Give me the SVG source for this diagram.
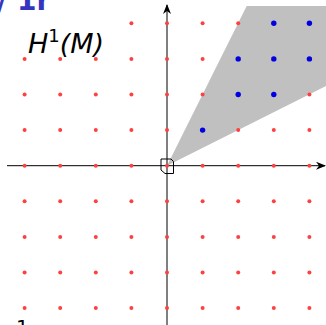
<svg xmlns="http://www.w3.org/2000/svg" width="326" height="325" viewBox="0 0 326 325">
<style>
.r{fill:#ff4040}
.b{fill:#0000e0}
.ax{stroke:#000;stroke-width:1;fill:none}
.lbl{font-family:"DejaVu Sans",sans-serif;font-style:italic;font-size:27px;fill:#000}
</style>
<defs>
<marker id="arr" viewBox="0 0 10 8" refX="9" refY="4" markerWidth="10" markerHeight="8" markerUnits="userSpaceOnUse" orient="auto">
<path d="M0,0 L10,4 L0,8 L3,4 Z" fill="#000"/>
</marker>
</defs>
<rect width="326" height="325" fill="#fff"/>
<g id="cone">
<polygon points="167,165.7 246.7,6 326,6 326,86" fill="#c0c0c0"/>
</g>
<g id="connectors">
<line class="ax" x1="7" y1="165.7" x2="325" y2="165.7" marker-end="url(#arr)"/>
<line class="ax" x1="167" y1="325" x2="167" y2="5" marker-end="url(#arr)"/>
</g>
<g id="red-dots">
<circle class="r" cx="131.4" cy="23.3" r="2"/>
<circle class="r" cx="167" cy="23.3" r="2"/>
<circle class="r" cx="202.6" cy="23.3" r="2"/>
<circle class="r" cx="238.2" cy="23.3" r="2"/>
<circle class="r" cx="24.6" cy="58.9" r="2"/>
<circle class="r" cx="60.2" cy="58.9" r="2"/>
<circle class="r" cx="95.8" cy="58.9" r="2"/>
<circle class="r" cx="131.4" cy="58.9" r="2"/>
<circle class="r" cx="167" cy="58.9" r="2"/>
<circle class="r" cx="202.6" cy="58.9" r="2"/>
<circle class="r" cx="24.6" cy="94.5" r="2"/>
<circle class="r" cx="60.2" cy="94.5" r="2"/>
<circle class="r" cx="95.8" cy="94.5" r="2"/>
<circle class="r" cx="131.4" cy="94.5" r="2"/>
<circle class="r" cx="167" cy="94.5" r="2"/>
<circle class="r" cx="202.6" cy="94.5" r="2"/>
<circle class="r" cx="309.4" cy="94.5" r="2"/>
<circle class="r" cx="24.6" cy="130.1" r="2"/>
<circle class="r" cx="60.2" cy="130.1" r="2"/>
<circle class="r" cx="95.8" cy="130.1" r="2"/>
<circle class="r" cx="131.4" cy="130.1" r="2"/>
<circle class="r" cx="167" cy="130.1" r="2"/>
<circle class="r" cx="238.2" cy="130.1" r="2"/>
<circle class="r" cx="273.8" cy="130.1" r="2"/>
<circle class="r" cx="309.4" cy="130.1" r="2"/>
<circle class="r" cx="24.6" cy="165.7" r="2"/>
<circle class="r" cx="60.2" cy="165.7" r="2"/>
<circle class="r" cx="95.8" cy="165.7" r="2"/>
<circle class="r" cx="131.4" cy="165.7" r="2"/>
<circle class="r" cx="167" cy="165.7" r="2"/>
<circle class="r" cx="202.6" cy="165.7" r="2"/>
<circle class="r" cx="238.2" cy="165.7" r="2"/>
<circle class="r" cx="273.8" cy="165.7" r="2"/>
<circle class="r" cx="309.4" cy="165.7" r="2"/>
<g id="lower-rows">
<circle class="r" cx="24.6" cy="201.3" r="2"/><circle class="r" cx="60.2" cy="201.3" r="2"/><circle class="r" cx="95.8" cy="201.3" r="2"/><circle class="r" cx="131.4" cy="201.3" r="2"/><circle class="r" cx="167" cy="201.3" r="2"/><circle class="r" cx="202.6" cy="201.3" r="2"/><circle class="r" cx="238.2" cy="201.3" r="2"/><circle class="r" cx="273.8" cy="201.3" r="2"/><circle class="r" cx="309.4" cy="201.3" r="2"/>
<circle class="r" cx="24.6" cy="236.9" r="2"/><circle class="r" cx="60.2" cy="236.9" r="2"/><circle class="r" cx="95.8" cy="236.9" r="2"/><circle class="r" cx="131.4" cy="236.9" r="2"/><circle class="r" cx="167" cy="236.9" r="2"/><circle class="r" cx="202.6" cy="236.9" r="2"/><circle class="r" cx="238.2" cy="236.9" r="2"/><circle class="r" cx="273.8" cy="236.9" r="2"/><circle class="r" cx="309.4" cy="236.9" r="2"/>
<circle class="r" cx="24.6" cy="272.5" r="2"/><circle class="r" cx="60.2" cy="272.5" r="2"/><circle class="r" cx="95.8" cy="272.5" r="2"/><circle class="r" cx="131.4" cy="272.5" r="2"/><circle class="r" cx="167" cy="272.5" r="2"/><circle class="r" cx="202.6" cy="272.5" r="2"/><circle class="r" cx="238.2" cy="272.5" r="2"/><circle class="r" cx="273.8" cy="272.5" r="2"/><circle class="r" cx="309.4" cy="272.5" r="2"/>
<circle class="r" cx="24.6" cy="308.1" r="2"/><circle class="r" cx="60.2" cy="308.1" r="2"/><circle class="r" cx="95.8" cy="308.1" r="2"/><circle class="r" cx="131.4" cy="308.1" r="2"/><circle class="r" cx="167" cy="308.1" r="2"/><circle class="r" cx="202.6" cy="308.1" r="2"/><circle class="r" cx="238.2" cy="308.1" r="2"/><circle class="r" cx="273.8" cy="308.1" r="2"/><circle class="r" cx="309.4" cy="308.1" r="2"/>
</g>
</g>
<g id="blue-dots">
<circle class="b" cx="273.8" cy="23.3" r="2.7"/>
<circle class="b" cx="309.4" cy="23.3" r="2.7"/>
<circle class="b" cx="238.2" cy="58.9" r="2.7"/>
<circle class="b" cx="273.8" cy="58.9" r="2.7"/>
<circle class="b" cx="309.4" cy="58.9" r="2.7"/>
<circle class="b" cx="238.2" cy="94.5" r="2.7"/>
<circle class="b" cx="273.8" cy="94.5" r="2.7"/>
<circle class="b" cx="202.6" cy="130.1" r="2.7"/>
</g>
<g id="origin-box">
<path d="M161,159 H171 L173.5,161.5 V173.5 H165 L161,170 Z" fill="none" stroke="#000" stroke-width="1"/>
</g>
<g id="label">
<text class="lbl" x="28" y="53">H<tspan font-style="normal" font-size="18" dy="-11">1</tspan><tspan dy="11">(M)</tspan></text>
</g>
<g id="fragments">
<text x="-3" y="10" font-family="DejaVu Sans,sans-serif" font-size="28" font-weight="bold" fill="#3535c0">/ 1r</text>
<text x="16" y="334" font-family="DejaVu Sans,sans-serif" font-size="20" fill="#000">1</text>
</g>
</svg>
